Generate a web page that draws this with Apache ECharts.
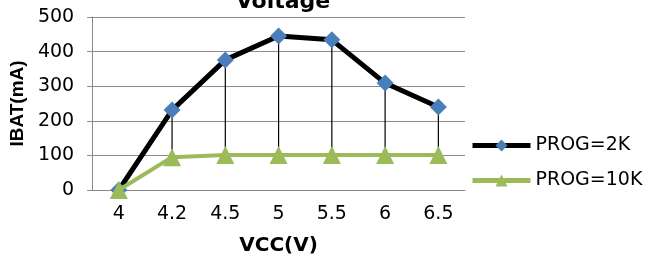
<!DOCTYPE html>
<html>
<head>
<meta charset="utf-8">
<script src="https://cdn.jsdelivr.net/npm/echarts@6/dist/echarts.min.js"></script>
<style>
  html, body { margin: 0; padding: 0; background: #fff; }
  #chart { width: 652px; height: 264px; }
</style>
</head>
<body>
<div id="chart"></div>
<script>
  // data
  var categories = ['4', '4.2', '4.5', '5', '5.5', '6', '6.5'];
  var prog2k = [0, 231, 376, 445, 434, 309, 240];
  var prog10k = [0, 95, 101, 101, 101, 101, 101];
  var yTicks = [0, 100, 200, 300, 400, 500];

  // high-low lines between the two series
  var hiLo = categories.map(function (c, i) {
    return [i, prog10k[i], prog2k[i]];
  }).filter(function (d) { return d[2] > d[1]; });

  var font = 'DejaVu Sans, sans-serif';
  var chart = echarts.init(document.getElementById('chart'));
  chart.setOption({
    animation: false,
    title: {
      text: 'Voltage',
      left: 278,
      textAlign: 'center',
      top: -14,
      textStyle: { fontFamily: font, fontSize: 22, fontWeight: 'bold', color: '#000' }
    },
    grid: { left: 88, top: 17, right: 187, bottom: 74 },
    legend: {
      orient: 'vertical',
      left: 465,
      top: 131,
      itemGap: 16,
      itemWidth: 58,
      itemHeight: 15,
      lineStyle: { width: 5 },
      textStyle: { fontFamily: font, fontSize: 19, color: '#000' },
      data: ['PROG=2K', 'PROG=10K']
    },
    xAxis: {
      type: 'category',
      data: categories,
      boundaryGap: true,
      name: 'VCC(V)',
      nameLocation: 'middle',
      nameGap: 46,
      nameTextStyle: { fontFamily: font, fontSize: 20, fontWeight: 'bold', color: '#000' },
      axisLine: { lineStyle: { color: '#888', width: 1 } },
      axisTick: { show: false },
      axisLabel: { fontFamily: font, fontSize: 19, color: '#000', margin: 15 }
    },
    yAxis: {
      type: 'value',
      min: yTicks[0],
      max: yTicks[yTicks.length - 1],
      interval: 100,
      name: 'IBAT(mA)',
      nameLocation: 'middle',
      nameGap: 52,
      nameTextStyle: { fontFamily: 'Liberation Sans, Arial, sans-serif', fontSize: 19, fontWeight: 'bold', color: '#000' },
      axisLine: { show: true, lineStyle: { color: '#888', width: 1 } },
      axisTick: { show: true, length: 5, lineStyle: { color: '#888' } },
      axisLabel: { fontFamily: font, fontSize: 19, color: '#000', margin: 18 },
      splitLine: { lineStyle: { color: '#8c8c8c', width: 1 } }
    },
    series: [
      {
        type: 'custom',
        name: 'hilo',
        data: hiLo,
        z: 3,
        renderItem: function (params, api) {
          var p1 = api.coord([api.value(0), api.value(1)]);
          var p2 = api.coord([api.value(0), api.value(2)]);
          return {
            type: 'line',
            shape: { x1: p1[0], y1: p1[1], x2: p2[0], y2: p2[1] },
            style: { stroke: '#000', lineWidth: 1.2 }
          };
        }
      },
      {
        name: 'PROG=2K',
        type: 'line',
        data: prog2k,
        z: 4,
        symbol: 'diamond',
        symbolSize: 17,
        lineStyle: { color: '#000', width: 5 },
        itemStyle: { color: '#4a7ebb' }
      },
      {
        name: 'PROG=10K',
        type: 'line',
        data: prog10k,
        z: 5,
        symbol: 'triangle',
        symbolSize: 18,
        lineStyle: { color: '#9bbb59', width: 4 },
        itemStyle: { color: '#9bbb59' }
      }
    ]
  });
</script>
</body>
</html>
